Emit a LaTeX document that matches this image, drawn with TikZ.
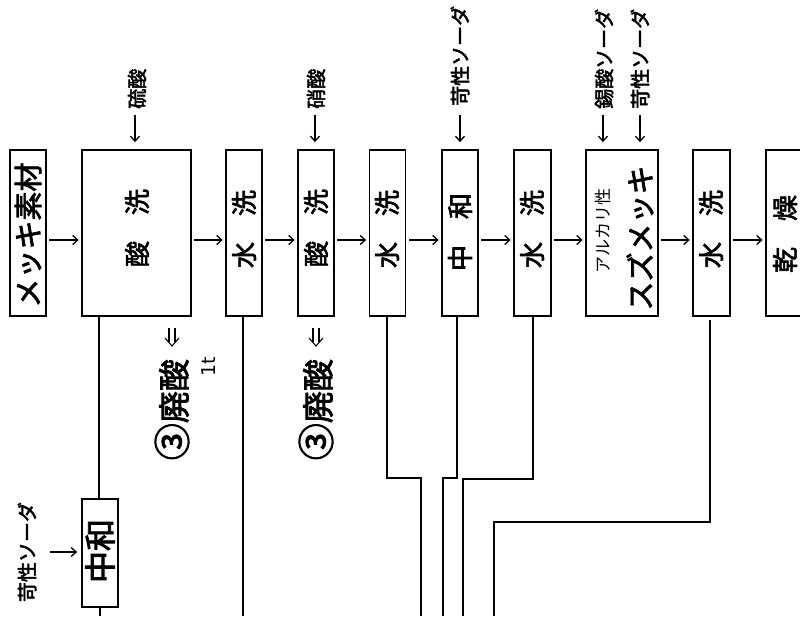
\documentclass[tikz,border=0pt]{standalone}
\usepackage{fontspec}
\newfontfamily\jp{Noto Sans CJK JP}
\newfontfamily\jpb{Noto Sans CJK JP}[FakeBold=2.5]
\newfontfamily\dv{DejaVu Sans}
\usetikzlibrary{arrows.meta}
\newcommand{\jfs}[1]{\jp\fontsize{#1}{#1}\selectfont}
\newcommand{\jbs}[1]{\jpb\fontsize{#1}{#1}\selectfont}
\begin{document}
\begin{tikzpicture}[x=1pt,y=-1pt,
  box/.style={draw, line width=1.7pt, inner sep=0pt, minimum height=166pt},
  lbl/.style={rotate=90, inner sep=0pt},
  arr/.style={line width=1.5pt, -{Straight Barb[length=5pt,width=9pt,line width=1.3pt]}},
  dblarr/.style={line width=1.1pt},
  pipe/.style={line width=1.9pt},
  thinpipe/.style={line width=1.2pt}]
\useasboundingbox (0,0) rectangle (800,616);
\clip (0,0) rectangle (800,616);
% main boxes
\node[box, minimum width=36pt]  (b1)  at (28,233)  {};
\node[box, minimum width=109pt] (b2)  at (136.5,233) {};
\node[box, minimum width=36pt]  (b3)  at (244,233) {};
\node[box, minimum width=36pt]  (b4)  at (316,233) {};
\node[box, minimum width=36pt]  (b5)  at (387.5,233) {};
\node[box, minimum width=36pt]  (b6)  at (460,233) {};
\node[box, minimum width=37pt]  (b7)  at (532.5,233) {};
\node[box, minimum width=72pt]  (b8)  at (622,233) {};
\node[box, minimum width=37pt]  (b9)  at (711.5,233) {};
\node[box, minimum width=40pt]  (b10) at (786,233) {};
% box labels
\node[lbl, font=\jbs{29}] (t1) at (28,235) {メッキ素材};
\node[lbl, font=\jbs{26}] (t2) at (137,228) {酸　洗};
\node[lbl, font=\jbs{26}] (t3) at (244,229) {水　洗};
\node[lbl, font=\jbs{26}] (t4) at (316,228) {酸　洗};
\node[lbl, font=\jbs{26}] (t5) at (387,229) {水　洗};
\node[lbl, font=\jbs{26}] (t6) at (460,232) {中　和};
\node[lbl, font=\jbs{26}] (t7) at (532,229) {水　洗};
\node[lbl, font=\jfs{17}] (t8a) at (603,231) {アルカリ性};
\node[lbl, font=\jbs{29}] (t8b) at (640,238) {スズメッキ};
\node[lbl, font=\jbs{26}] (t9) at (711,229) {水　洗};
\node[lbl, font=\jbs{26}] (t10) at (785,234) {乾　燥};
% flow arrows
\foreach \a/\b in {b1/b2,b2/b3,b3/b4,b4/b5,b5/b6,b6/b7,b7/b8,b8/b9,b9/b10}
  \draw[arr, shorten <=2.5pt, shorten >=2.5pt] (\a.east |- 0,240) -- (\b.west |- 0,240);
% feed arrows from top
\coordinate (f2) at (135,115);
\coordinate (f4) at (315,115);
\coordinate (f6) at (460,115);
\coordinate (f8a) at (603,115);
\coordinate (f8b) at (640,115);
\draw[arr, shorten >=7pt] (f2) -- (f2 |- b2.north);
\draw[arr, shorten >=7pt] (f4) -- (f4 |- b4.north);
\draw[arr, shorten >=7pt] (f6) -- (f6 |- b6.north);
\draw[arr, shorten >=7pt] (f8a) -- (f8a |- b8.north);
\draw[arr, shorten >=7pt] (f8b) -- (f8b |- b8.north);
\node[lbl, anchor=west, font=\jbs{20}] (l2) at (137,109) {硫酸};
\node[lbl, anchor=west, font=\jbs{20}] (l4) at (316,109) {硝酸};
\node[lbl, anchor=west, font=\jbs{20}] (l6) at (460,106) {苛性ソーダ};
\node[lbl, anchor=west, font=\jbs{20}] (l8a) at (604,109) {錫酸ソーダ};
\node[lbl, anchor=west, font=\jbs{20}] (l8b) at (640,109) {苛性ソーダ};
% waste acid outputs (double arrows)
\foreach \n/\x in {w2/172, w4/316} {
  \coordinate (\n) at (\x,346);
  \draw[dblarr] (\x-3,328) -- (\x-3,342) (\x+3,328) -- (\x+3,342);
  \draw[dblarr, line join=miter] (\x-7,338) -- (\n) -- (\x+7,338);
}
\node[lbl, anchor=east, font=\jbs{32}] (o2) at (172,359) {{\jbs{37}③}廃酸};
\node[lbl, anchor=east, font=\jbs{32}] (o4) at (316,359) {{\jbs{37}③}廃酸};
\node[lbl, font=\dv\fontsize{19}{19}\selectfont] (one) at (209,367) {1t};
% neutralisation of waste
\node[draw, line width=1.7pt, minimum width=36pt, minimum height=108pt, inner sep=0pt] (n1) at (100,553) {};
\node[lbl, font=\jbs{32}] (tn1) at (100,551) {中和};
\coordinate (fn) at (50,552);
\draw[arr, shorten >=4pt] (fn) -- (fn -| n1.west);
\node[lbl, font=\jbs{20}] (ln) at (27,552) {苛性ソーダ};
\draw[thinpipe] (b2.south -| 99,0) -- (n1.north -| 99,0);
\coordinate (e1) at (100,616);
\draw[thinpipe] (n1.south) -- (e1);
% drains
\coordinate (e3) at (243,616);
\coordinate (e5) at (421,616);
\coordinate (e6) at (443,616);
\coordinate (e7) at (463,616);
\coordinate (e9) at (494,616);
\draw[thinpipe] (b3.south -| e3) -- (e3);
\draw[pipe] (b5.south -| 387,0) -- (387,478) -| (e5);
\draw[pipe] (b6.south -| 457,0) -- (457,478) -| (e6);
\draw[pipe] (b7.south -| 533,0) -- (533,479) -| (e7);
\draw[pipe] (710,320) -- (710,522) -| (e9);
\end{tikzpicture}
\end{document}
